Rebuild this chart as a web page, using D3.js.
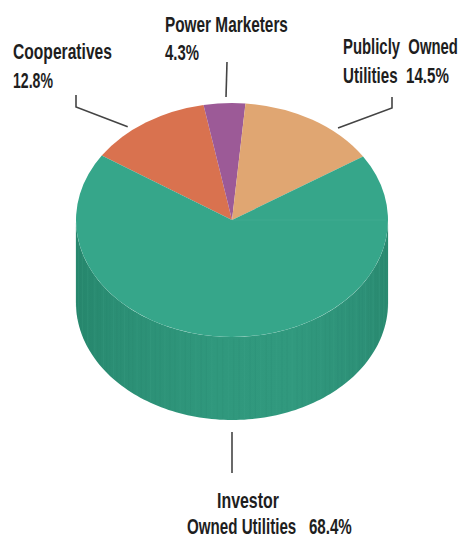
<!DOCTYPE html>
<html>
<head>
<meta charset="utf-8">
<script src="https://cdn.jsdelivr.net/npm/d3@7"></script>
<style>
  html, body { margin: 0; padding: 0; background: #ffffff; }
  svg { display: block; }
  .lbl { font-family: "Liberation Sans", Arial, sans-serif; font-weight: bold; font-size: 22.5px; fill: #1e1e1e; }
</style>
</head>
<body>
<svg id="chart" width="463" height="540"></svg>
<script>
// Market share by utility ownership type (percent)
const categories = ["Cooperatives", "Power Marketers", "Publicly Owned Utilities", "Investor Owned Utilities"];
const shares = [12.8, 4.3, 14.5, 68.4];
// Label text per slice; "{v}" is replaced with the share
const labelLines = [
  ["Cooperatives", "{v}%"],
  ["Power Marketers", "{v}%"],
  ["Publicly  Owned", "Utilities  {v}%"],
  ["Investor", "Owned Utilities   {v}%"]
];
const colors = ["#d9724f", "#9c5a97", "#e0a672", "#36a68a"];

const W = 463, H = 540;
const cx = 232, cy = 220, rx = 156, ry = 117, depth = 83;
const startDeg = -56.6;

const svg = d3.select("#chart");
const defs = svg.append("defs");

// horizontal shading for the cylinder wall
const grad = defs.append("linearGradient").attr("id", "wall")
  .attr("x1", "0%").attr("x2", "100%").attr("y1", "0%").attr("y2", "0%");
[["0%", "#27876d"], ["12%", "#2b8e74"], ["45%", "#30987d"], ["70%", "#31997e"], ["92%", "#2d9077"], ["100%", "#2a8a70"]]
  .forEach(([o, c]) => grad.append("stop").attr("offset", o).attr("stop-color", c));

const pie = d3.pie().sort(null).value(d => d)
  .startAngle(startDeg * Math.PI / 180)
  .endAngle(startDeg * Math.PI / 180 + 2 * Math.PI);
const arcs = pie(shares);

// projection of a pie angle onto the tilted disc
const proj = (a, r = 1, dy = 0) => [cx + rx * r * Math.sin(a), cy - ry * r * Math.cos(a) + dy];

// visible wall: front half of the disc (angles between PI/2 and 3PI/2)
const wallLine = d3.line();
arcs.forEach((d, i) => {
  const a0 = Math.max(d.startAngle, Math.PI / 2);
  const a1 = Math.min(d.endAngle, 3 * Math.PI / 2);
  if (a1 <= a0) return;
  const n = 120;
  const t = d3.range(n + 1).map(k => a0 + (a1 - a0) * k / n);
  const pts = t.map(a => proj(a)).concat(t.slice().reverse().map(a => proj(a, 1, depth)));
  svg.append("path")
    .attr("d", wallLine(pts) + "Z")
    .attr("fill", i === 3 ? "url(#wall)" : d3.color(colors[i]).darker(0.5));
  // fine vertical streaks on the wall
  const sg = svg.append("g").attr("opacity", 0.18);
  d3.range(a0 + 0.02, a1, 0.035).forEach((a, k) => {
    const p = proj(a), q = proj(a, 1, depth);
    sg.append("line")
      .attr("x1", p[0]).attr("y1", p[1] + 2).attr("x2", q[0]).attr("y2", q[1] - 1)
      .attr("stroke", k % 3 === 0 ? "#4bb397" : "#23806a").attr("stroke-width", 0.8);
  });
});

// top face
const topG = svg.append("g").attr("transform", `translate(${cx},${cy}) scale(1,${ry / rx})`);
const arcGen = d3.arc().innerRadius(0).outerRadius(rx);
topG.selectAll("path.slice").data(arcs).join("path")
  .attr("class", "slice")
  .attr("d", arcGen)
  .attr("fill", (d, i) => colors[i]);

// faint seam on the top face
const seamEnd = proj(Math.PI / 2);
svg.append("line")
  .attr("x1", cx).attr("y1", cy).attr("x2", seamEnd[0] - 2).attr("y2", cy)
  .attr("stroke", "#5cbba1").attr("stroke-width", 1).attr("opacity", 0.25);

// labels and leader lines
const layout = [
  { x: [13, 13], y: 59, gap: 29, widths: [99, 40], leader: [[76, 95], [76, 107]], endAng: -40 },
  { x: [165, 165], y: 32, gap: 28, widths: [123, 34], leader: [[227, 62]], endAng: -2.2 },
  { x: [343, 343], y: 54, gap: 29, widths: [115, 106], leader: [[392, 97], [392, 108]], endAng: 40.8 },
  { x: [217, 187], y: 508, gap: 26, widths: [62, 165], leader: [[232, 473]], endAng: 180 }
];

const leaderLine = d3.line();
arcs.forEach((d, i) => {
  const L = layout[i];
  let end;
  if (i === 1) end = proj(L.endAng * Math.PI / 180, 1.0, -6);
  else if (i === 3) end = proj(Math.PI, 1, depth + 12);
  else end = proj(L.endAng * Math.PI / 180, 1.04);
  svg.append("path")
    .attr("d", leaderLine(L.leader.concat([end])))
    .attr("fill", "none")
    .attr("stroke", "#444444")
    .attr("stroke-width", 1.6);
});

// condensed labels: each line is squeezed horizontally to its set width
labelLines.forEach((lines, i) => {
  const L = layout[i];
  lines.forEach((s, k) => {
    const t = svg.append("text")
      .attr("class", "lbl")
      .attr("xml:space", "preserve")
      .attr("x", 0).attr("y", 0)
      .text(s.replace("{v}", shares[i]));
    const natural = t.node().getComputedTextLength();
    const sx = L.widths[k] / natural;
    t.attr("transform", `translate(${L.x[k]},${L.y + k * L.gap}) scale(${sx},1)`);
  });
});
</script>
</body>
</html>
